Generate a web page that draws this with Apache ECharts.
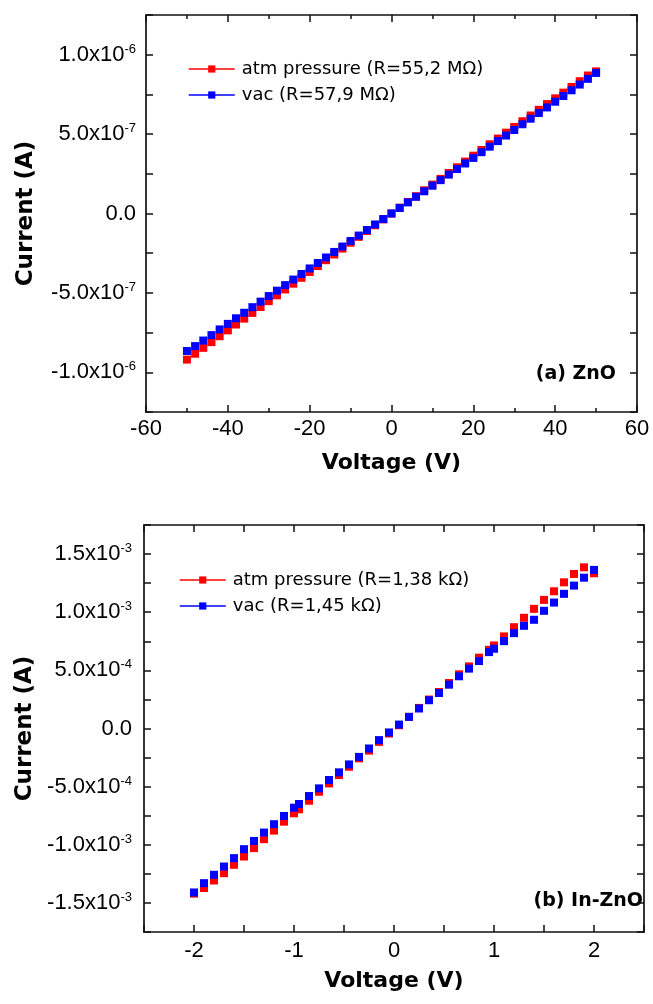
<!DOCTYPE html>
<html>
<head>
<meta charset="utf-8">
<script src="https://cdn.jsdelivr.net/npm/echarts@6.0.0/dist/echarts.min.js"></script>
<style>
html,body{margin:0;padding:0;background:#fff;}
#chart{width:653px;height:1004px;}
</style>
</head>
<body>
<div id="chart"></div>
<script>
// ---------- (a) ZnO ----------
const topVoltage = [-50,-48,-46,-44,-42,-40,-38,-36,-34,-32,-30,-28,-26,-24,-22,-20,-18,-16,-14,-12,-10,-8,-6,-4,-2,0,2,4,6,8,10,12,14,16,18,20,22,24,26,28,30,32,34,36,38,40,42,44,46,48,50];
const topAtm = [-9.20e-7,-8.83e-7,-8.46e-7,-8.10e-7,-7.73e-7,-7.36e-7,-6.99e-7,-6.62e-7,-6.26e-7,-5.89e-7,-5.52e-7,-5.15e-7,-4.78e-7,-4.42e-7,-4.05e-7,-3.68e-7,-3.31e-7,-2.94e-7,-2.58e-7,-2.21e-7,-1.84e-7,-1.47e-7,-1.10e-7,-0.74e-7,-0.37e-7,0.0,0.37e-7,0.73e-7,1.09e-7,1.46e-7,1.82e-7,2.18e-7,2.55e-7,2.91e-7,3.27e-7,3.64e-7,4.00e-7,4.36e-7,4.72e-7,5.09e-7,5.45e-7,5.81e-7,6.17e-7,6.53e-7,6.89e-7,7.25e-7,7.61e-7,7.97e-7,8.33e-7,8.69e-7,8.95e-7];
const topVac = [-8.66e-7,-8.35e-7,-8.00e-7,-7.66e-7,-7.30e-7,-6.95e-7,-6.60e-7,-6.25e-7,-5.90e-7,-5.55e-7,-5.20e-7,-4.86e-7,-4.51e-7,-4.16e-7,-3.81e-7,-3.46e-7,-3.12e-7,-2.77e-7,-2.42e-7,-2.08e-7,-1.73e-7,-1.39e-7,-1.04e-7,-0.69e-7,-0.35e-7,0.0,0.35e-7,0.70e-7,1.05e-7,1.40e-7,1.75e-7,2.10e-7,2.45e-7,2.80e-7,3.15e-7,3.50e-7,3.86e-7,4.21e-7,4.56e-7,4.91e-7,5.26e-7,5.62e-7,5.97e-7,6.33e-7,6.68e-7,7.04e-7,7.40e-7,7.76e-7,8.12e-7,8.48e-7,8.85e-7];
const topNames = ['atm pressure (R=55,2 MΩ)', 'vac (R=57,9 MΩ)'];
const topXTicks = [-60,-40,-20,0,20,40,60];
const topYTickValues = [-1e-6,-5e-7,0,5e-7,1e-6];
const topYTickLabels = [['-1.0x10','-6'],['-5.0x10','-7'],['0.0',''],['5.0x10','-7'],['1.0x10','-6']];

// ---------- (b) In-ZnO ----------
const botVoltage = [-2.0,-1.9,-1.8,-1.7,-1.6,-1.5,-1.4,-1.3,-1.2,-1.1,-1.0,-0.95,-0.85,-0.75,-0.65,-0.55,-0.45,-0.35,-0.25,-0.15,-0.05,0.05,0.15,0.25,0.35,0.45,0.55,0.65,0.75,0.85,0.95,1.0,1.1,1.2,1.3,1.4,1.5,1.6,1.7,1.8,1.9,2.0];
const botAtm = [-1.420e-3,-1.372e-3,-1.307e-3,-1.244e-3,-1.172e-3,-1.101e-3,-1.029e-3,-0.952e-3,-0.878e-3,-0.801e-3,-0.729e-3,-0.695e-3,-0.621e-3,-0.544e-3,-0.472e-3,-0.400e-3,-0.329e-3,-0.257e-3,-0.190e-3,-0.115e-3,-0.043e-3,0.028e-3,0.100e-3,0.177e-3,0.249e-3,0.314e-3,0.391e-3,0.466e-3,0.534e-3,0.609e-3,0.677e-3,0.714e-3,0.792e-3,0.871e-3,0.952e-3,1.029e-3,1.106e-3,1.180e-3,1.257e-3,1.329e-3,1.386e-3,1.335e-3];
const botVac = [-1.410e-3,-1.330e-3,-1.258e-3,-1.187e-3,-1.115e-3,-1.038e-3,-0.967e-3,-0.895e-3,-0.823e-3,-0.752e-3,-0.681e-3,-0.649e-3,-0.581e-3,-0.515e-3,-0.443e-3,-0.377e-3,-0.309e-3,-0.244e-3,-0.172e-3,-0.100e-3,-0.034e-3,0.034e-3,0.100e-3,0.172e-3,0.243e-3,0.305e-3,0.377e-3,0.449e-3,0.515e-3,0.580e-3,0.657e-3,0.686e-3,0.751e-3,0.820e-3,0.883e-3,0.935e-3,1.012e-3,1.083e-3,1.158e-3,1.229e-3,1.297e-3,1.364e-3];
const botNames = ['atm pressure (R=1,38 kΩ)', 'vac (R=1,45 kΩ)'];
const botXTicks = [-2,-1,0,1,2];
const botYTickValues = [-1.5e-3,-1e-3,-5e-4,0,5e-4,1e-3,1.5e-3];
const botYTickLabels = [['-1.5x10','-3'],['-1.0x10','-3'],['-5.0x10','-4'],['0.0',''],['5.0x10','-4'],['1.0x10','-3'],['1.5x10','-3']];

const panelLabels = ['(a) ZnO', '(b) In-ZnO'];

const RED = '#ff0000', BLUE = '#0000ff', INK = '#111';
const TICK_FONT = "'Liberation Sans', Arial, sans-serif";
const TITLE_FONT = "'DejaVu Sans', sans-serif";

function zip(xs, ys){ return xs.map((x,i)=>[x, ys[i]]); }
function findLabel(v, vals, labels, tol){
  for (let i=0;i<vals.length;i++){ if (Math.abs(v-vals[i]) < tol) return labels[i]; }
  return null;
}
function yFormatter(vals, labels, tol){
  return function(v){
    const l = findLabel(v, vals, labels, tol);
    if (!l) return '';
    return l[1] ? '{m|' + l[0] + '}{s|' + l[1] + '}' : '{m|' + l[0] + '}';
  };
}
function xFormatter(vals, tol){
  return function(v){
    for (const t of vals){ if (Math.abs(v-t) < tol) return String(t); }
    return '';
  };
}
const richY = {
  m: {fontFamily: TICK_FONT, fontSize: 22, color: '#000'},
  s: {fontFamily: TICK_FONT, fontSize: 13, color: '#000', padding: [0,0,11,0]}
};
const lineAx = {show: true, onZero: false, lineStyle: {color: INK, width: 1.7}};
const tickAx = {show: true, inside: true, length: 7, lineStyle: {color: INK, width: 1.5}};

function mainX(grid, min, max, interval, ticks, margin, nameGap, minor){
  return {
    type: 'value', gridIndex: grid, min, max, interval, position: 'bottom',
    axisLine: lineAx, axisTick: tickAx,
    minorTick: minor ? {show: true, splitNumber: 2, length: 4, lineStyle: {color: INK, width: 1.5}} : {show: false},
    splitLine: {show: false}, minorSplitLine: {show: false},
    axisLabel: {show: true, margin, fontFamily: TICK_FONT, fontSize: 22, color: '#000',
      formatter: xFormatter(ticks, interval/10), showMinLabel: true, showMaxLabel: true},
    name: 'Voltage (V)', nameLocation: 'middle', nameGap,
    nameTextStyle: {fontFamily: TITLE_FONT, fontWeight: 'bold', fontSize: 22, color: '#000'}
  };
}
function mirrorX(grid, min, max, interval, minor){
  return {
    type: 'value', gridIndex: grid, min, max, interval, position: 'top',
    axisLine: lineAx, axisTick: tickAx,
    minorTick: minor ? {show: true, splitNumber: 2, length: 4, lineStyle: {color: INK, width: 1.5}} : {show: false},
    splitLine: {show: false}, axisLabel: {show: false}
  };
}
function mainY(grid, min, max, interval, vals, labels, margin, nameGap){
  return {
    type: 'value', gridIndex: grid, min, max, interval, position: 'left',
    axisLine: lineAx, axisTick: tickAx, splitLine: {show: false},
    axisLabel: {show: true, margin, formatter: yFormatter(vals, labels, interval/10), rich: richY,
      showMinLabel: true, showMaxLabel: true},
    name: 'Current (A)', nameLocation: 'middle', nameGap, nameRotate: 90,
    nameTextStyle: {fontFamily: TITLE_FONT, fontWeight: 'bold', fontSize: 23, color: '#000'}
  };
}
function mirrorY(grid, min, max, interval){
  return {
    type: 'value', gridIndex: grid, min, max, interval, position: 'right',
    axisLine: lineAx, axisTick: tickAx, splitLine: {show: false}, axisLabel: {show: false}
  };
}
function ser(name, xi, yi, data, color, size, z){
  return {
    name, type: 'line', xAxisIndex: xi, yAxisIndex: yi, data,
    symbol: 'rect', symbolSize: size, showAllSymbol: true, z,
    itemStyle: {color, opacity: 1},
    lineStyle: {color, width: 1.5, opacity: 0},
    emphasis: {disabled: true}, silent: true
  };
}
function legend(names, left, top){
  return {
    orient: 'vertical', left, top, itemWidth: 46, itemHeight: 9, itemGap: 8,
    selectedMode: false,
    data: names,
    lineStyle: {opacity: 1, width: 1.5},
    textStyle: {fontFamily: TITLE_FONT, fontSize: 18, color: '#000', padding: [0,0,0,2]}
  };
}

const chart = echarts.init(document.getElementById('chart'), null, {renderer: 'canvas'});
chart.setOption({
  animation: false,
  backgroundColor: '#fff',
  grid: [
    {left: 146, right: 16, top: 15, bottom: 592},
    {left: 144, right: 9, top: 525, bottom: 72}
  ],
  xAxis: [
    mainX(0, -60, 60, 20, topXTicks, 6, 40, true),
    mirrorX(0, -60, 60, 20, true),
    mainX(1, -2.5, 2.5, 0.5, botXTicks, 8, 38, false),
    mirrorX(1, -2.5, 2.5, 0.5, false)
  ],
  yAxis: [
    mainY(0, -1.25e-6, 1.25e-6, 2.5e-7, topYTickValues, topYTickLabels, 10, 108),
    mirrorY(0, -1.25e-6, 1.25e-6, 2.5e-7),
    mainY(1, -1.75e-3, 1.75e-3, 2.5e-4, botYTickValues, botYTickLabels, 12, 106),
    mirrorY(1, -1.75e-3, 1.75e-3, 2.5e-4)
  ],
  legend: [
    legend(topNames, 183, 55),
    legend(botNames, 174, 566)
  ],
  graphic: [
    {type: 'text', right: 653 - 616, top: 365, silent: true,
      style: {text: panelLabels[0], font: "bold 19px 'DejaVu Sans'", fill: '#000'}},
    {type: 'text', right: 653 - 643, top: 892, silent: true,
      style: {text: panelLabels[1], font: "bold 19px 'DejaVu Sans'", fill: '#000'}}
  ],
  series: [
    ser(topNames[0], 0, 0, zip(topVoltage, topAtm), RED, 8, 2),
    ser(topNames[1], 0, 0, zip(topVoltage, topVac), BLUE, 8, 3),
    ser(botNames[0], 2, 2, zip(botVoltage, botAtm), RED, 8, 2),
    ser(botNames[1], 2, 2, zip(botVoltage, botVac), BLUE, 8, 3)
  ]
});
</script>
</body>
</html>
